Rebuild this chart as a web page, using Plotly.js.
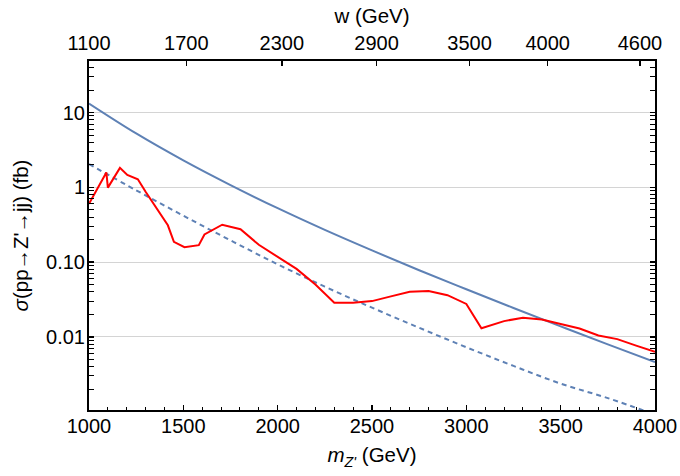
<!DOCTYPE html>
<html>
<head>
<meta charset="utf-8">
<script src="https://cdn.plot.ly/plotly-3.0.1.min.js"></script>
<style>html,body{margin:0;padding:0;background:#fff;}#chart{width:680px;height:476px;}</style>
</head>
<body>
<div id="chart"></div>
<script>
// Solid blue curve (sigma, fb)
const blueMass = [1000, 1250, 1500, 1750, 2000, 2250, 2500, 2750, 3000, 3250, 3500, 3750, 4000];
const blueSigma = [13.2, 5.25, 2.29, 1.07, 0.525, 0.269, 0.143, 0.0776, 0.0432, 0.0243, 0.0138, 0.0079, 0.00457];

// Dashed blue curve
const dashMass = [1000, 1250, 1500, 1750, 2000, 2250, 2500, 2750, 3000, 3250, 3500, 3750, 4000];
const dashSigma = [2.04, 0.912, 0.417, 0.195, 0.0933, 0.0468, 0.0245, 0.0132, 0.00724, 0.00407, 0.00236, 0.00151, 0.00091];

// Red curve (limit)
const redMass = [1000, 1092, 1100, 1164, 1203, 1259, 1300, 1362, 1418, 1450, 1506, 1582, 1612, 1706, 1803, 1900, 2000, 2100, 2200, 2300, 2400, 2500, 2600, 2700, 2800, 2900, 3000, 3080, 3200, 3300, 3400, 3500, 3600, 3700, 3800, 3900, 4000];
const redSigma = [0.60, 1.58, 0.99, 1.82, 1.46, 1.28, 0.87, 0.50, 0.31, 0.186, 0.158, 0.168, 0.234, 0.316, 0.275, 0.17, 0.117, 0.081, 0.050, 0.0285, 0.0285, 0.030, 0.0347, 0.040, 0.041, 0.036, 0.0275, 0.013, 0.0162, 0.018, 0.017, 0.0148, 0.0129, 0.0104, 0.0093, 0.0076, 0.0063];

// Axis ticks
const xTickVals = [1000, 1500, 2000, 2500, 3000, 3500, 4000];
const yTickVals = [0.01, 0.1, 1, 10];
const yTickText = ['0.01', '0.10', '1', '10'];
const wTickPos = [1000, 1516, 2022, 2524, 3017, 3431, 3920];
const wTickText = ['1100', '1700', '2300', '2900', '3500', '4000', '4600'];

const yMinor = [];
for (let k = -3; k <= 1; k++) {
  for (let m = 2; m <= 9; m++) yMinor.push(m * Math.pow(10, k));
}

const blue = '#5e81b5';
const traces = [
  {x: blueMass, y: blueSigma, type: 'scatter', mode: 'lines', line: {color: blue, width: 2, shape: 'spline', smoothing: 1}, hoverinfo: 'skip', showlegend: false},
  {x: dashMass, y: dashSigma, type: 'scatter', mode: 'lines', line: {color: blue, width: 2, dash: '5px,4px', shape: 'spline', smoothing: 1}, hoverinfo: 'skip', showlegend: false},
  {x: redMass, y: redSigma, type: 'scatter', mode: 'lines', line: {color: '#ff0000', width: 2}, hoverinfo: 'skip', showlegend: false},
  // empty trace so that the top (w) axis gets drawn
  {x: [], y: [], xaxis: 'x2', yaxis: 'y', type: 'scatter', mode: 'lines', hoverinfo: 'skip', showlegend: false}
];

const fam = 'Liberation Sans, Arial, sans-serif';
const tickFont = {family: fam, size: 20, color: '#000'};
const titleFont = {family: fam, size: 20.5, color: '#000'};

const layout = {
  width: 680, height: 476,
  margin: {l: 88.5, r: 24.5, t: 61, b: 66},
  paper_bgcolor: '#fff', plot_bgcolor: '#fff',
  font: tickFont,
  showlegend: false,
  xaxis: {
    range: [1000, 4000],
    tickmode: 'array', tickvals: xTickVals,
    ticks: 'inside', ticklen: 5, tickwidth: 1.5, tickcolor: '#000',
    minor: {dtick: 100, ticks: 'inside', ticklen: 3, tickwidth: 1, tickcolor: '#000', showgrid: false},
    showline: true, linecolor: '#000', linewidth: 2,
    showgrid: false, zeroline: false,
    tickfont: tickFont, ticklabelstandoff: -3,
    title: {text: "<i>m</i><sub><i>Z'</i></sub> (GeV)", font: titleFont, standoff: 12}
  },
  xaxis2: {
    overlaying: 'x', side: 'top', anchor: 'y',
    range: [1000, 4000],
    tickmode: 'array', tickvals: wTickPos, ticktext: wTickText,
    ticks: 'inside', ticklen: 5, tickwidth: 1.5, tickcolor: '#000',
    showline: true, linecolor: '#000', linewidth: 2,
    showgrid: false, zeroline: false,
    tickfont: tickFont, ticklabelstandoff: 1,
    title: {text: 'w (GeV)', font: titleFont, standoff: 3}
  },
  yaxis: {
    type: 'log',
    range: [-2.98, 1.69],
    tickmode: 'array', tickvals: yTickVals, ticktext: yTickText,
    ticks: 'inside', ticklen: 5, tickwidth: 1.5, tickcolor: '#000',
    minor: {tickmode: 'array', tickvals: yMinor, ticks: 'inside', ticklen: 3, tickwidth: 1, tickcolor: '#000', showgrid: false},
    showline: true, linecolor: '#000', linewidth: 2, mirror: 'allticks',
    showgrid: true, gridcolor: '#d4d4d4', gridwidth: 1,
    zeroline: false,
    tickfont: tickFont, ticklabelstandoff: -2,
    title: {text: "<i>σ</i>(pp→Z'→jj) (fb)", font: titleFont, standoff: 12}
  }
};

Plotly.newPlot('chart', traces, layout, {staticPlot: true, displayModeBar: false});
</script>
</body>
</html>
